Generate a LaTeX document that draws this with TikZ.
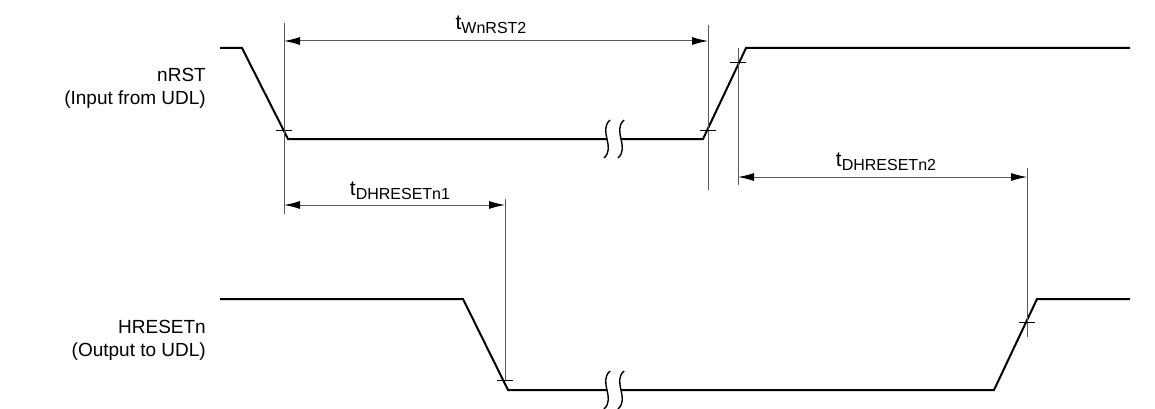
\documentclass[tikz,border=0pt]{standalone}
\usepackage{fontspec}
\setmainfont{Liberation Sans}
\usetikzlibrary{arrows.meta}
\begin{document}
\begin{tikzpicture}[x=1pt,y=-1pt,
  wave/.style={line width=2pt, line join=miter},
  dim/.style={line width=1pt, draw=black!65},
  dimarrow/.style={dim, {Latex[length=16pt,width=8pt,black]}-{Latex[length=16pt,width=8pt,black]}},
  tickmark/.style={line width=1pt},
  lbl/.style={font=\fontsize{19}{23}\selectfont, align=right, anchor=east, inner sep=0pt},
  tlabel/.style={font=\fontsize{21}{21}\selectfont, inner sep=0pt},
  brk/.pic={
    \fill[white] (3,-19) .. controls (-9,-8) and (9,8) .. (-3,19) -- (11,19) .. controls (23,8) and (5,-8) .. (17,-19) -- cycle;
    \draw[line width=1.4pt] (3,-19) .. controls (-9,-8) and (9,8) .. (-3,19);
    \draw[line width=1.4pt] (17,-19) .. controls (5,-8) and (23,8) .. (11,19);
  }
]
\useasboundingbox (0,0) rectangle (1155,409);
\newcommand{\sublbl}[2]{t{\fontsize{16}{16}\selectfont\raisebox{-4pt}{#2}}}

% signal labels
\node[lbl] (nrst) at (206,88) {nRST\\(Input from UDL)};
\node[lbl] (hreset) at (206,340) {HRESETn\\(Output to UDL)};

% nRST waveform
\coordinate (a0) at (220,48);
\coordinate (a1) at (242,48);
\coordinate (a2) at (288,139);
\coordinate (a3) at (703,139);
\coordinate (a4) at (746,48);
\coordinate (a5) at (1130,48);
\draw[wave] (a0) -- (a1) -- (a2) -- (a3) -- (a4) -- (a5);

% HRESETn waveform
\coordinate (b0) at (220,299);
\coordinate (b1) at (463,299);
\coordinate (b2) at (508,390);
\coordinate (b3) at (994,390);
\coordinate (b4) at (1037,299);
\coordinate (b5) at (1130,299);
\draw[wave] (b0) -- (b1) -- (b2) -- (b3) -- (b4) -- (b5);

% break symbols
\pic at (607,139) {brk};
\pic at (607,390) {brk};

% vertical reference lines
\coordinate (v1t) at (284,23);  \coordinate (v1b) at (284,214);
\coordinate (v2t) at (708,25);  \coordinate (v2b) at (708,190);
\coordinate (v3t) at (738,48);  \coordinate (v3b) at (738,185);
\coordinate (v4t) at (505,199); \coordinate (v4b) at (505,380);
\coordinate (v5t) at (1027,168); \coordinate (v5b) at (1027,337);
\draw[dim] (v1t) -- (v1b);
\draw[dim] (v2t) -- (v2b);
\draw[dim] (v3t) -- (v3b);
\draw[dim] (v4t) -- (v4b);
\draw[dim] (v5t) -- (v5b);

% tick marks
\coordinate (k1) at (284,130);
\coordinate (k2) at (708,130);
\coordinate (k3) at (738,63);
\coordinate (k4) at (505,380);
\coordinate (k5) at (1027,322);
\foreach \k in {k1,k2,k3,k4,k5}
  \draw[tickmark] ([xshift=-8pt]\k) -- ([xshift=8pt]\k);

% dimension arrows
\coordinate (w1) at (284,41);  \coordinate (w2) at (708,41);
\coordinate (d1) at (284,205); \coordinate (d2) at (505,205);
\coordinate (e1) at (738,177); \coordinate (e2) at (1027,177);
\draw[dimarrow] (w1) -- (w2);
\draw[dimarrow] (d1) -- (d2);
\draw[dimarrow] (e1) -- (e2);

\node[tlabel] (twn) at (491,25) {\sublbl{t}{WnRST2}};
\node[tlabel] (td1) at (400,191) {\sublbl{t}{DHRESETn1}};
\node[tlabel] (td2) at (886,162) {\sublbl{t}{DHRESETn2}};
\end{tikzpicture}
\end{document}
